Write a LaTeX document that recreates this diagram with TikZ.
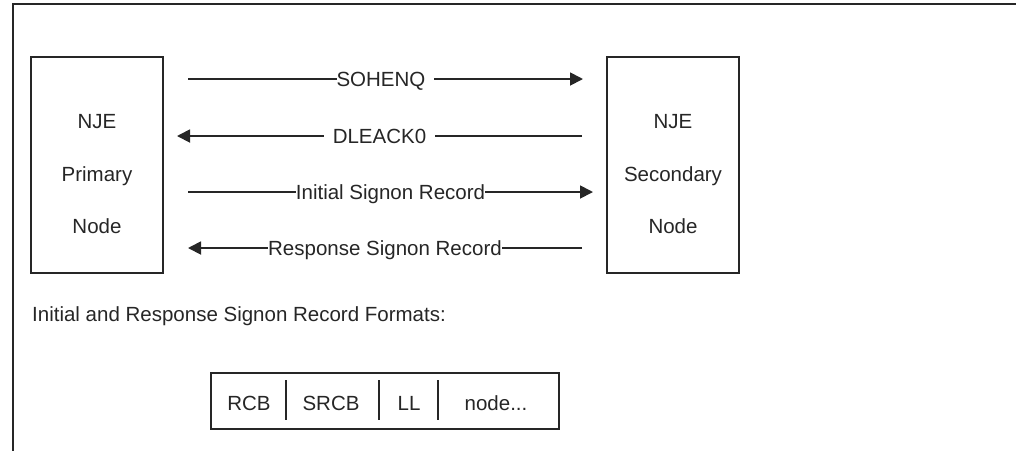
\documentclass[tikz,border=0pt]{standalone}
\usepackage{fontspec}
\setmainfont{Liberation Sans}
\usepackage{tikz}
\usetikzlibrary{arrows.meta}

\begin{document}
\begin{tikzpicture}[x=1pt,y=1pt,font=\fontsize{20.5}{24}\selectfont,color=black!85,
box/.style={draw,line width=1.3pt,minimum width=132pt,minimum height=216pt},
msg/.style={line width=1.8pt,-{Triangle[length=13pt,width=13pt]}},
txt/.style={text height=14.5pt,text depth=0pt,inner sep=0pt},
lbl/.style={txt,fill=white,inner xsep=0pt,inner ysep=2pt}]
\useasboundingbox (0,0) rectangle (1016,-451);
\draw [line width=1.3pt](1016,-4)--(13,-4)--(13,-451);

\node(1)[box] at(97,-165){};
\node(2)[box] at(673,-165){};
\node(3)[align=center,font=\fontsize{20.5}{52.5}\selectfont] at(97,-174.5){NJE\\Primary\\Node};
\node(4)[align=center,font=\fontsize{20.5}{52.5}\selectfont] at(673,-174.5){NJE\\Secondary\\Node};

\coordinate(5) at(188,-79);
\coordinate(6) at(583,-79);
\coordinate(7) at(582,-136);
\coordinate(8) at(177,-136);
\coordinate(9) at(188,-192);
\coordinate(10) at(593,-192);
\coordinate(11) at(582,-248);
\coordinate(12) at(188,-248);
\draw [msg](5)--(6) node[pos=0.5,lbl]{SOHENQ\ \,};
\draw [msg](7)--(8) node[pos=0.5,lbl]{\ \,DLEACK0\ \,};
\draw [msg](9)--(10) node[pos=0.5,lbl]{Initial Signon Record};
\draw [msg](11)--(12) node[pos=0.5,lbl]{Response Signon Record};

\node(13)[txt,anchor=west] at(32,-314){Initial and Response Signon Record Formats:};
\node(14)[draw,line width=1.3pt,minimum width=348pt,minimum height=56pt] at(385,-401){};
\node(15)[txt] at(249,-403){RCB};
\node(16)[txt] at(331,-403){SRCB};
\node(17)[txt] at(409,-403){LL};
\node(18)[txt] at(496,-403){node...};
\foreach \x in {286,379,438}
  \draw [line width=1.3pt](\x,-380)--(\x,-420);
\end{tikzpicture}
\end{document}
